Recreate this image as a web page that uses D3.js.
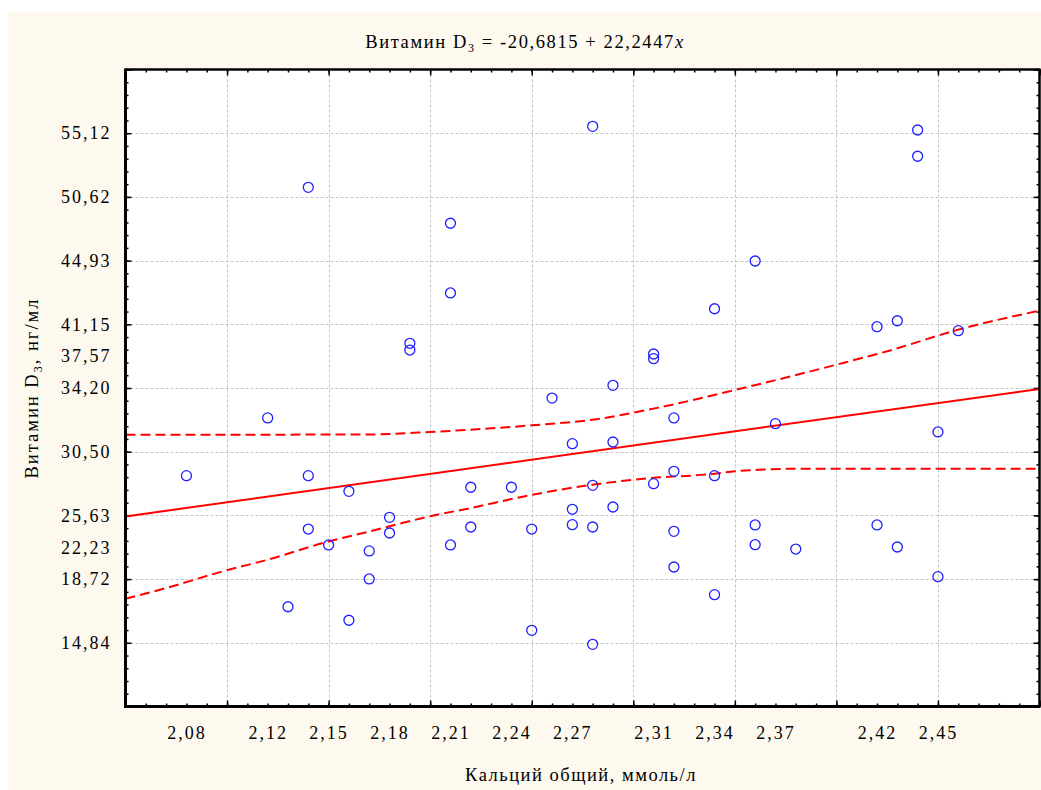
<!DOCTYPE html>
<html>
<head>
<meta charset="utf-8">
<script src="https://cdn.jsdelivr.net/npm/d3@7"></script>
<style>
  body { margin: 0; background: #fff; }
  text { font-family: "Liberation Serif", "Times New Roman", serif; fill: #000; }
</style>
</head>
<body>
<svg id="chart" width="1041" height="790"></svg>
<script>
// кальций общий (ммоль/л) и витамин D3 (нг/мл)
const calcium = [2.08, 2.12, 2.13, 2.14, 2.14, 2.14, 2.15, 2.16, 2.16, 2.17, 2.17, 2.18, 2.18, 2.19, 2.19,
  2.21, 2.21, 2.21, 2.22, 2.22, 2.24, 2.25, 2.25, 2.26, 2.27, 2.27, 2.27, 2.28, 2.28, 2.28, 2.28,
  2.29, 2.29, 2.29, 2.31, 2.31, 2.31, 2.32, 2.32, 2.32, 2.32, 2.34, 2.34, 2.34, 2.36, 2.36, 2.36,
  2.37, 2.38, 2.42, 2.42, 2.43, 2.43, 2.44, 2.44, 2.45, 2.45, 2.46]
const vitaminD = [28.12, 32.65, 17.83, 50.75, 28.12, 23.93, 22.68, 26.89, 16.77, 22.21, 20.01, 24.85, 23.62, 38.51, 37.98,
  47.93, 42.46, 22.68, 27.21, 24.09, 27.21, 23.93, 15.98, 34.21, 30.63, 25.48, 24.27, 55.54, 27.36, 24.09, 14.88,
  35.21, 30.76, 25.66, 37.67, 37.30, 27.49, 32.65, 28.46, 23.75, 20.95, 41.22, 28.12, 18.78, 44.97, 24.25, 22.70,
  32.20, 22.36, 39.81, 24.25, 40.28, 22.52, 55.25, 53.19, 31.55, 20.19, 39.50]

// регрессия из заголовка
const intercept = -20.6815
const slope = 22.2447

// доверительные границы
const upperX = [2.05, 2.168, 2.20, 2.25, 2.28, 2.31, 2.35, 2.40, 2.426, 2.46, 2.50]
const upperY = [31.33, 31.35, 31.55, 32.07, 32.51, 33.38, 34.84, 36.83, 37.93, 39.58, 41.07]
const lowerX = [2.05, 2.07, 2.099, 2.12, 2.149, 2.169, 2.20, 2.22, 2.249, 2.28, 2.309, 2.339, 2.35, 2.383, 2.50]
const lowerY = [18.46, 19.30, 20.66, 21.52, 22.91, 23.70, 24.93, 25.58, 26.58, 27.41, 27.94, 28.25, 28.46, 28.67, 28.67]

// подписи осей
const xLabelValues = [2.08, 2.12, 2.15, 2.18, 2.21, 2.24, 2.27, 2.31, 2.34, 2.37, 2.42, 2.45]
const yLabelValues = [55, 50, 45, 40, 37.5, 35, 30, 25, 22.5, 20, 15]
const yLabelTexts = ["55,12", "50,62", "44,93", "41,15", "37,57", "34,20", "30,50", "25,63", "22,23", "18,72", "14,84"]
const xGridValues = [2.10, 2.15, 2.20, 2.25, 2.30, 2.35, 2.40, 2.45]
const yGridValues = [15, 20, 25, 30, 35, 40, 45, 50, 55]

const svg = d3.select("#chart")
const pLeft = 125.5, pRight = 1039.5, pTop = 69.5, pBottom = 706.5
const W = pRight - pLeft, H = pBottom - pTop

svg.append("rect").attr("x", 8).attr("y", 12).attr("width", 1033).attr("height", 778).attr("fill", "#fdf9ef")
svg.append("rect").attr("x", pLeft).attr("y", pTop).attr("width", W).attr("height", H).attr("fill", "#fff")

const x = d3.scaleLinear().domain([2.05, 2.50]).range([pLeft, pRight])
const y = d3.scaleLinear().domain([10, 60]).range([pBottom, pTop])

const comma = d => d3.format(".2f")(d).replace(".", ",")

// сетка
const grid = svg.append("g").attr("stroke", "#c6c6c6").attr("stroke-dasharray", "3,2").attr("stroke-width", 1)
grid.selectAll(".gx").data(xGridValues).join("line").attr("class", "gx")
  .attr("x1", d => Math.round(x(d)) + 0.5).attr("x2", d => Math.round(x(d)) + 0.5)
  .attr("y1", pTop).attr("y2", pBottom)
grid.selectAll(".gy").data(yGridValues).join("line").attr("class", "gy")
  .attr("y1", d => Math.round(y(d)) + 0.5).attr("y2", d => Math.round(y(d)) + 0.5)
  .attr("x1", pLeft).attr("x2", pRight)

// засечки внутрь со всех сторон
const minorX = d3.range(205, 251).map(v => v / 100)
const majorX = d3.range(205, 251, 5).map(v => v / 100)
const minorY = d3.range(10, 61)
const majorY = d3.range(10, 61, 5)

function ticks(axis, pos, vals, size) {
  svg.append("g").attr("transform", pos)
    .call(axis.tickValues(vals).tickSize(-size).tickFormat(""))
    .call(g => g.select(".domain").remove())
    .call(g => g.selectAll("line").attr("stroke", "#000").attr("stroke-width", 1.5))
}
ticks(d3.axisBottom(x), `translate(0,${pBottom})`, minorX, 3)
ticks(d3.axisBottom(x), `translate(0,${pBottom})`, majorX, 6)
ticks(d3.axisTop(x), `translate(0,${pTop})`, minorX, 3)
ticks(d3.axisTop(x), `translate(0,${pTop})`, majorX, 6)
ticks(d3.axisLeft(y), `translate(${pLeft},0)`, minorY, 3)
ticks(d3.axisLeft(y), `translate(${pLeft},0)`, majorY, 6)
ticks(d3.axisRight(y), `translate(${pRight},0)`, minorY, 3)
ticks(d3.axisRight(y), `translate(${pRight},0)`, majorY, 6)

// подписи делений
svg.append("g").attr("transform", `translate(0,${pBottom})`)
  .call(d3.axisBottom(x).tickValues(xLabelValues).tickSize(0).tickPadding(20).tickFormat(comma))
  .call(g => g.select(".domain").remove())
  .call(g => g.selectAll("text").attr("font-size", 18).attr("letter-spacing", 2)
    .attr("font-family", '"Liberation Serif", serif'))

svg.append("g").attr("transform", `translate(${pLeft},0)`)
  .call(d3.axisLeft(y).tickValues(yLabelValues).tickSize(0).tickPadding(14)
    .tickFormat((d, i) => yLabelTexts[i]))
  .call(g => g.select(".domain").remove())
  .call(g => g.selectAll("text").attr("font-size", 18).attr("letter-spacing", 2)
    .attr("font-family", '"Liberation Serif", serif'))

// доверительные границы и линия регрессии
const band = (xs, ys) => d3.line().x((d, i) => x(xs[i])).y((d, i) => y(ys[i])).curve(d3.curveMonotoneX)(xs)
const plot = svg.append("g")
plot.append("path").attr("d", band(upperX, upperY))
  .attr("fill", "none").attr("stroke", "#ff0000").attr("stroke-width", 2).attr("stroke-dasharray", "10,5")
plot.append("path").attr("d", band(lowerX, lowerY))
  .attr("fill", "none").attr("stroke", "#ff0000").attr("stroke-width", 2).attr("stroke-dasharray", "10,5")

const xd = x.domain()
plot.append("line")
  .attr("x1", x(xd[0])).attr("y1", y(intercept + slope * xd[0]))
  .attr("x2", x(xd[1])).attr("y2", y(intercept + slope * xd[1]))
  .attr("stroke", "#ff0000").attr("stroke-width", 2)

plot.selectAll("circle").data(calcium).join("circle")
  .attr("cx", d => x(d))
  .attr("cy", (d, i) => y(vitaminD[i]))
  .attr("r", 5)
  .attr("fill", "none")
  .attr("stroke", "#1f1fff")
  .attr("stroke-width", 1.3)

// рамка
const frame = svg.append("g").attr("stroke", "#000").attr("fill", "none")
frame.append("line").attr("x1", pLeft).attr("x2", pLeft).attr("y1", pTop - 1).attr("y2", pBottom + 1.5).attr("stroke-width", 3)
frame.append("line").attr("x1", pLeft - 1.5).attr("x2", pRight + 1).attr("y1", pBottom).attr("y2", pBottom).attr("stroke-width", 3)
frame.append("line").attr("x1", pLeft).attr("x2", pRight + 1).attr("y1", pTop).attr("y2", pTop).attr("stroke-width", 2.5)
frame.append("line").attr("x1", pRight).attr("x2", pRight).attr("y1", pTop).attr("y2", pBottom).attr("stroke-width", 2.5)

// заголовок
const title = svg.append("text").attr("x", 525).attr("y", 48).attr("text-anchor", "middle")
  .attr("font-size", 18.5).attr("letter-spacing", 1.6)
title.append("tspan").text("Витамин D")
title.append("tspan").text("3").attr("font-size", 12).attr("dy", 4)
title.append("tspan").text(" = -20,6815 + 22,2447").attr("dy", -4)
title.append("tspan").text("x").attr("font-style", "italic")

// названия осей
svg.append("text").attr("x", 581).attr("y", 781).attr("text-anchor", "middle")
  .attr("font-size", 18.5).attr("letter-spacing", 1.5)
  .text("Кальций общий, ммоль/л")

const yl = svg.append("text").attr("transform", "translate(38,388) rotate(-90)")
  .attr("text-anchor", "middle").attr("font-size", 18.5).attr("letter-spacing", 2)
yl.append("tspan").text("Витамин D")
yl.append("tspan").text("3").attr("font-size", 12).attr("dy", 4)
yl.append("tspan").text(", нг/мл").attr("dy", -4)
</script>
</body>
</html>
